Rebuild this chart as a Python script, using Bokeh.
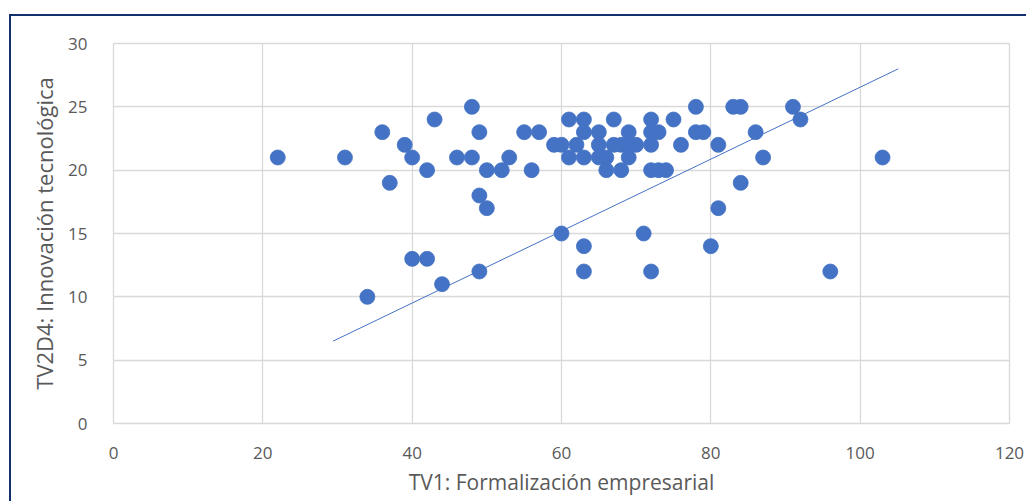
from bokeh.plotting import figure
from bokeh.models import Range1d, FixedTicker, ColumnDataSource
from bokeh.embed import file_html
from bokeh.resources import INLINE

# ---- data ----
tv1 = [48, 78, 83, 84, 91,
       43, 61, 63, 67, 72, 75, 92,
       36, 49, 55, 57, 63, 65, 69, 72, 73, 78, 79, 86,
       39, 59, 60, 62, 65, 67, 68, 69, 70, 72, 76, 81,
       22, 31, 40, 46, 48, 53, 61, 63, 65, 66, 69, 87, 103,
       42, 50, 52, 56, 66, 68, 72, 73, 74,
       37, 84,
       49,
       50, 81,
       60, 71,
       63, 80,
       40, 42,
       49, 63, 72, 96,
       44,
       34]
tv2d4 = [25, 25, 25, 25, 25,
         24, 24, 24, 24, 24, 24, 24,
         23, 23, 23, 23, 23, 23, 23, 23, 23, 23, 23, 23,
         22, 22, 22, 22, 22, 22, 22, 22, 22, 22, 22, 22,
         21, 21, 21, 21, 21, 21, 21, 21, 21, 21, 21, 21, 21,
         20, 20, 20, 20, 20, 20, 20, 20, 20,
         19, 19,
         18,
         17, 17,
         15, 15,
         14, 14,
         13, 13,
         12, 12, 12, 12,
         11,
         10]
trend_x = [29.4, 105.1]
trend_y = [6.5, 28.0]
x_ticks = [0, 20, 40, 60, 80, 100, 120]
y_ticks = [0, 5, 10, 15, 20, 25, 30]
x_title = "TV1: Formalización empresarial"
y_title = "TV2D4: Innovación tecnológica"

BLUE = "#4472C4"
GRID = "#D9D9D9"
TXT = "#595959"
FONT = "Open Sans"

p = figure(frame_width=896, frame_height=380,
           min_border_left=102, min_border_right=17,
           min_border_top=27, min_border_bottom=78,
           x_range=Range1d(0, 120), y_range=Range1d(0, 30),
           output_backend="svg", toolbar_location=None)
p.styles = {"border-left": "2px solid #13306E",
            "border-top": "2px solid #13306E",
            "margin-top": "14px", "margin-left": "9px",
            "margin-bottom": "-8px"}

p.background_fill_color = "white"
p.border_fill_color = "white"
p.outline_line_color = GRID
p.outline_line_width = 1.3

src = ColumnDataSource(dict(x=tv1, y=tv2d4))
p.line(trend_x, trend_y, line_color=BLUE, line_width=1)
p.scatter("x", "y", source=src, size=15, fill_color=BLUE, line_color=BLUE,
          line_width=0.8)

for ax in (p.xaxis[0], p.yaxis[0]):
    ax.axis_line_color = None
    ax.major_tick_line_color = None
    ax.minor_tick_line_color = None
    ax.major_label_text_font = FONT
    ax.major_label_text_font_size = "17px"
    ax.major_label_text_color = TXT
    ax.axis_label_text_font = FONT
    ax.axis_label_text_color = TXT
    ax.axis_label_text_font_style = "normal"

p.xaxis.axis_label_text_font_size = "21px"
p.yaxis.axis_label_text_font_size = "22px"
p.xaxis.ticker = FixedTicker(ticks=x_ticks)
p.yaxis.ticker = FixedTicker(ticks=y_ticks)
p.xaxis.axis_label = x_title
p.yaxis.axis_label = y_title
p.xaxis.major_label_standoff = 17
p.yaxis.major_label_standoff = 20
p.xaxis.axis_label_standoff = 6
p.yaxis.axis_label_standoff = 6

p.xgrid.grid_line_color = GRID
p.ygrid.grid_line_color = GRID
p.xgrid.grid_line_width = 1.3
p.ygrid.grid_line_width = 1.3

open("out.html", "w").write(file_html(p, INLINE))
